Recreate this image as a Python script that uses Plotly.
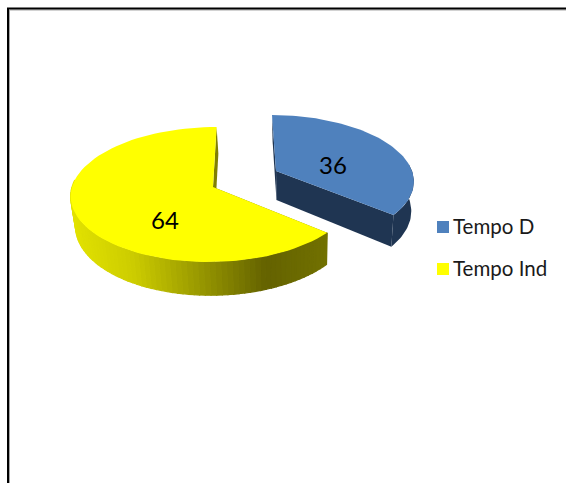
import math
import plotly.graph_objects as go

categories = ["Tempo D", "Tempo Ind"]
values = [36, 64]
top_colors = ["#4F81BD", "#FFFF00"]
wall_colors = ["#1F3552", "#807F00"]
label_xy = [(333, 167.5), (165, 222.5)]
legend_swatch_xy = [(443, 227), (443, 269)]
legend_text_xy = [(453, 228.5), (453, 270.5)]

# projection of each exploded slice: centre x, centre y, rx, ry, perspective, skew, depth
proj = [
    dict(cx=276, cy=171, rx=136, ry=63.3, p=0.131, s=-4.5, d=29),
    dict(cx=213, cy=187, rx=141, ry=66.7, p=0.111, s=4.0, d=29.5),
]
VX, K = 297, 0.978
RIM_LIMIT = [84, 276]  # edge of the visible (front) rim, in degrees clockwise from 12 o'clock

# rim shading of the yellow slice by screen x
rim_stops = [(70, (226, 226, 0)), (130, (205, 205, 0)), (198, (152, 152, 0)),
             (265, (100, 98, 0)), (330, (114, 114, 0))]


def rim_color(x):
    if x <= rim_stops[0][0]:
        c = rim_stops[0][1]
    elif x >= rim_stops[-1][0]:
        c = rim_stops[-1][1]
    else:
        for (a, ca), (b, cb) in zip(rim_stops, rim_stops[1:]):
            if a <= x <= b:
                t = (x - a) / (b - a)
                c = tuple(ca[i] + (cb[i] - ca[i]) * t for i in range(3))
                break
    return "rgb(%d,%d,%d)" % tuple(round(v) for v in c)


def top_pt(g, deg, r=1.0):
    th = math.radians(deg)
    u, v = r * math.sin(th), r * math.cos(th)
    w = 1 + g["p"] * v
    return g["cx"] + (g["rx"] * u + g["s"] * v) / w, g["cy"] - g["ry"] * v / w


def bot_pt(g, deg, r=1.0):
    x, y = top_pt(g, deg, r)
    th = math.radians(deg)
    w = 1 + g["p"] * r * math.cos(th)
    return VX + (x - VX) * K, y + g["d"] / w


def poly(xs, ys, color, width=0.0):
    return go.Scatter(x=xs, y=ys, mode="lines", fill="toself", fillcolor=color,
                      line=dict(color=color, width=width), hoverinfo="skip", showlegend=False)


fig = go.Figure()
total = sum(values)
start = 0.0
for i, val in enumerate(values):
    g = proj[i]
    end = start + 360.0 * val / total
    angles = [start + (end - start) * k / 80 for k in range(81)]
    # radial walls
    for edge in (start, end):
        a, b = top_pt(g, edge), top_pt(g, edge, 0)
        c, e = bot_pt(g, edge, 0), bot_pt(g, edge)
        fig.add_trace(poly([a[0], b[0], c[0], e[0], a[0]], [a[1], b[1], c[1], e[1], a[1]], wall_colors[i]))
    # outer rim: only the part that faces the viewer
    if i == 0:
        vis = [RIM_LIMIT[0] + (end - RIM_LIMIT[0]) * k / 30 for k in range(31)]
        tp = [top_pt(g, t) for t in vis]
        bp = [bot_pt(g, t) for t in vis[::-1]]
        pts = tp + bp + tp[:1]
        fig.add_trace(poly([q[0] for q in pts], [q[1] for q in pts], wall_colors[i]))
    else:
        vis = [start + (RIM_LIMIT[1] - start) * k / 70 for k in range(71)]
        for t0, t1 in zip(vis, vis[1:]):
            a, b, c, e = top_pt(g, t0), top_pt(g, t1), bot_pt(g, t1), bot_pt(g, t0)
            fig.add_trace(poly([a[0], b[0], c[0], e[0], a[0]], [a[1], b[1], c[1], e[1], a[1]],
                               rim_color((a[0] + b[0]) / 2), width=1.2))
    # top face
    pts = [top_pt(g, t) for t in angles] + [top_pt(g, end, 0)]
    pts.append(pts[0])
    fig.add_trace(poly([q[0] for q in pts], [q[1] for q in pts], top_colors[i]))
    start = end

fig.add_trace(go.Scatter(x=[q[0] for q in label_xy], y=[q[1] for q in label_xy], mode="text",
                         text=[str(v) for v in values], textposition="middle center",
                         textfont=dict(family="Lato", size=24, color="#000000"),
                         hoverinfo="skip", showlegend=False))
fig.add_trace(go.Scatter(x=[q[0] for q in legend_swatch_xy], y=[q[1] for q in legend_swatch_xy], mode="markers",
                         marker=dict(symbol="square", size=12, color=top_colors, line=dict(width=0)),
                         hoverinfo="skip", showlegend=False))
fig.add_trace(go.Scatter(x=[q[0] for q in legend_text_xy], y=[q[1] for q in legend_text_xy], mode="text",
                         text=categories, textposition="middle right",
                         textfont=dict(family="Lato", size=20.5, color="#1a1a1a"),
                         hoverinfo="skip", showlegend=False))

fig.update_layout(
    width=566, height=483, margin=dict(l=0, r=0, t=0, b=0),
    paper_bgcolor="white", plot_bgcolor="white", showlegend=False,
    xaxis=dict(range=[0, 566], visible=False, fixedrange=True),
    yaxis=dict(range=[483, 0], visible=False, fixedrange=True),
    shapes=[
        dict(type="path", path="M 9.5 483 L 9.5 10 L 566 10", line=dict(color="#A6A6A6", width=1), layer="below"),
        dict(type="path", path="M 8 483 L 8 8.5 L 566 8.5", line=dict(color="#000000", width=2), layer="below"),
    ],
)
fig.write_html("out.html", config={"displayModeBar": False},
               post_script="document.body.style.margin='0';document.body.style.overflow='hidden';")
